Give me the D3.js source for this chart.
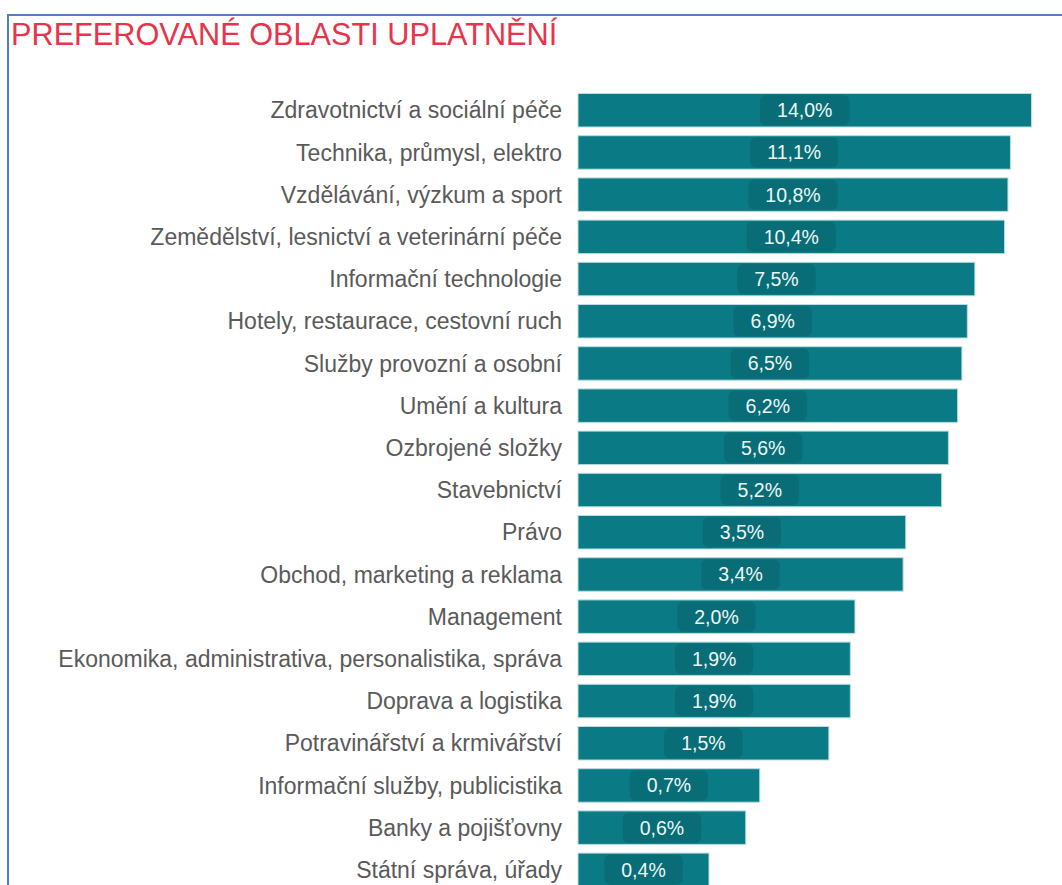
<!DOCTYPE html>
<html>
<head>
<meta charset="utf-8">
<script src="https://cdn.jsdelivr.net/npm/d3@7"></script>
<style>
  html, body { margin: 0; padding: 0; background: #fff; }
  svg { display: block; font-family: "Liberation Sans", Arial, sans-serif; }
</style>
</head>
<body>
<div id="chart"></div>
<script>
// Data
const categories = [
    "Zdravotnictví a sociální péče",
    "Technika, průmysl, elektro",
    "Vzdělávání, výzkum a sport",
    "Zemědělství, lesnictví a veterinární péče",
    "Informační technologie",
    "Hotely, restaurace, cestovní ruch",
    "Služby provozní a osobní",
    "Umění a kultura",
    "Ozbrojené složky",
    "Stavebnictví",
    "Právo",
    "Obchod, marketing a reklama",
    "Management",
    "Ekonomika, administrativa, personalistika, správa",
    "Doprava a logistika",
    "Potravinářství a krmivářství",
    "Informační služby, publicistika",
    "Banky a pojišťovny",
    "Státní správa, úřady"
];
const values = [14.0, 11.1, 10.8, 10.4, 7.5, 6.9, 6.5, 6.2, 5.6, 5.2, 3.5, 3.4, 2.0, 1.9, 1.9, 1.5, 0.7, 0.6, 0.4];
const title = "PREFEROVANÉ OBLASTI UPLATNĚNÍ";

const W = 1062, H = 885;
const data = categories.map((c, i) => ({ cat: c, val: values[i] }));

const svg = d3.select("#chart").append("svg")
    .attr("width", W)
    .attr("height", H);

// frame (top and left border of the panel)
svg.append("path")
    .attr("d", `M8,${H} L8,15 L${W},15`)
    .attr("fill", "none")
    .attr("stroke", "#4f81c4")
    .attr("stroke-width", 2);

// Title
svg.append("text")
    .attr("x", 11)
    .attr("y", 45)
    .style("fill", "#e8344a")
    .style("font-size", "30.7px")
    .text(title);

// Scales (bar lengths follow a log scale)
const x = d3.scaleLog()
    .domain([0.0944, 14])
    .range([578, 1031.5]);

const y = d3.scaleBand()
    .domain(categories)
    .range([89.15, 89.15 + categories.length * 42.2])
    .paddingInner(0.206)
    .paddingOuter(0.103);

// Category labels
svg.selectAll(".cat")
    .data(data)
    .enter()
    .append("text")
    .attr("class", "cat")
    .attr("x", 562)
    .attr("y", d => y(d.cat) + y.bandwidth() / 2)
    .attr("dy", "0.35em")
    .attr("text-anchor", "end")
    .style("fill", "#5a5a5a")
    .style("font-size", "23px")
    .text(d => d.cat);

// Bars
svg.selectAll(".bar")
    .data(data)
    .enter()
    .append("rect")
    .attr("class", "bar")
    .attr("x", x.range()[0])
    .attr("y", d => y(d.cat))
    .attr("width", d => x(d.val) - x.range()[0])
    .attr("height", y.bandwidth())
    .attr("fill", "#0a7b84")
    .attr("stroke", "#b9dde0")
    .attr("stroke-width", 1);

// Value labels with darker rounded boxes
const fmt = v => v.toFixed(1).replace(".", ",") + "%";
const lab = svg.selectAll(".lab")
    .data(data)
    .enter()
    .append("g")
    .attr("class", "lab")
    .attr("transform", d => `translate(${(x.range()[0] + x(d.val)) / 2},${y(d.cat) + y.bandwidth() / 2})`);

lab.append("text")
    .attr("text-anchor", "middle")
    .attr("dy", "0.36em")
    .style("fill", "#eef7f7")
    .style("font-size", "19.5px")
    .text(d => fmt(d.val))
    .each(function () {
        const bb = this.getBBox();
        d3.select(this.parentNode).insert("rect", "text")
            .attr("x", -bb.width / 2 - 17)
            .attr("y", -15)
            .attr("width", bb.width + 34)
            .attr("height", 30)
            .attr("rx", 6)
            .attr("fill", "#086d76");
    });
</script>
</body>
</html>
